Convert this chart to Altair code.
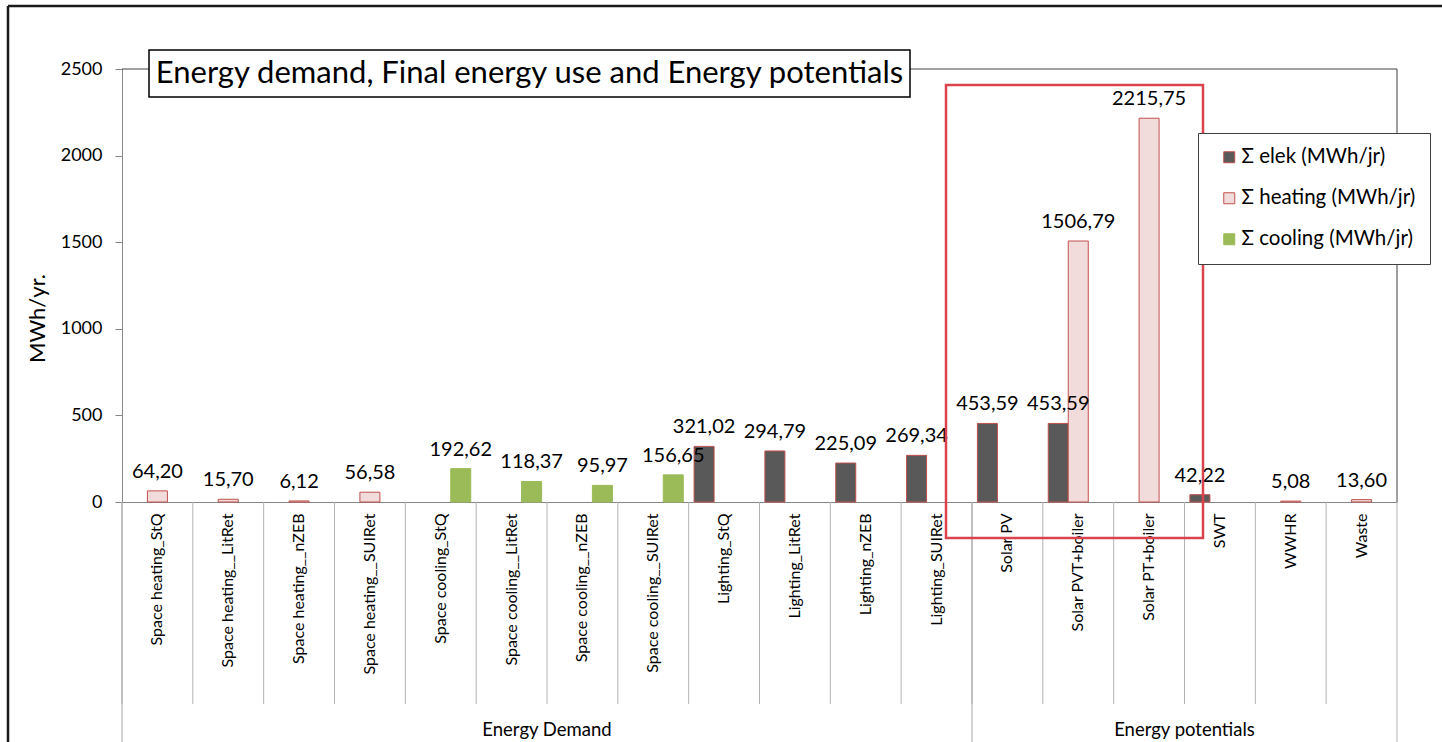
import altair as alt
import pandas as pd

# ---- data -------------------------------------------------------------
categories = [
    "Space heating_StQ", "Space heating__LitRet", "Space heating__nZEB", "Space heating__SUIRet",
    "Space cooling_StQ", "Space cooling__LitRet", "Space cooling__nZEB", "Space cooling__SUIRet",
    "Lighting_StQ", "Lighting_LitRet", "Lighting_nZEB", "Lighting_SUIRet",
    "Solar PV", "Solar PVT+boiler", "Solar PT+boiler", "SWT", "WWHR", "Waste",
]
group_names = ["Energy Demand", "Energy potentials"]
group_sizes = [12, 6]

elek = [None] * 8 + [321.02, 294.79, 225.09, 269.34, 453.59, 453.59, None, 42.22, None, None]
heating = [64.20, 15.70, 6.12, 56.58] + [None] * 9 + [1506.79, 2215.75, None, 5.08, 13.60]
cooling = [None] * 4 + [192.62, 118.37, 95.97, 156.65] + [None] * 10

series_names = ["Σ elek (MWh/jr)", "Σ heating (MWh/jr)", "Σ cooling (MWh/jr)"]
series_fill = ["#595959", "#f2dcdb", "#9bbb59"]
series_stroke = ["#c0504d", "#c0504d", "#9bbb59"]

y_ticks = [0, 500, 1000, 1500, 2000, 2500]
chart_title = "Energy demand, Final energy use and Energy potentials"
y_title = "MWh/yr."

# ---- tables -----------------------------------------------------------
rows = []
for name, values in zip(series_names, [elek, heating, cooling]):
    for cat, v in zip(categories, values):
        if v is not None:
            rows.append({"cat": cat, "series": name, "value": v,
                         "label": f"{v:.2f}".replace(".", ",")})
bars_df = pd.DataFrame(rows)
cats_df = pd.DataFrame({"cat": categories})

starts, mids = [], []
pos = 0
for size in group_sizes:
    starts.append(categories[pos])
    mids.append(categories[pos + size // 2])
    pos += size
group_start_df = pd.DataFrame({"cat": starts})
group_mid_df = pd.DataFrame({"cat": mids, "name": group_names})
last_df = pd.DataFrame({"cat": [categories[-1]]})
one = pd.DataFrame({"k": [0]})

W, H = 1275, 433
FONT = "Lato"

x_scale = alt.Scale(domain=categories, paddingInner=0, paddingOuter=0)
xo_scale = alt.Scale(domain=series_names, paddingInner=0, paddingOuter=0.27)
y_scale = alt.Scale(domain=[0, 2500])

legend = alt.Legend(title=None, orient="none", legendX=1076, legendY=64,
                    padding=14, symbolOffset=7, symbolType="square",
                    symbolSize=121, symbolStrokeWidth=1, labelOffset=2,
                    labelFontSize=20.5, labelFont=FONT, labelColor="#000000",
                    labelLimit=400, rowPadding=20, strokeColor="#404040",
                    fillColor="#ffffff")

# ---- bars -------------------------------------------------------------
bars = alt.Chart(bars_df).mark_bar(strokeWidth=1).encode(
    x=alt.X("cat:N", scale=x_scale, title=None,
            axis=alt.Axis(labelAngle=-90, labelAlign="right", labelBaseline="middle",
                          labelPadding=11, labelFontSize=16, labelColor="#000000",
                          labelLimit=400, ticks=False, domainColor="#868686",
                          labelFont=FONT)),
    xOffset=alt.XOffset("series:N", scale=xo_scale),
    y=alt.Y("value:Q", scale=y_scale, title=y_title,
            axis=alt.Axis(values=y_ticks, format="d", grid=False, tickSize=7,
                          tickColor="#868686", domainColor="#868686", labelFontSize=18,
                          labelPadding=13, labelColor="#000000", titleFontSize=22,
                          titleFontWeight="normal", titleColor="#000000", titleX=-73,
                          titleY=249, titleFont=FONT, labelFont=FONT)),
    fill=alt.Fill("series:N", scale=alt.Scale(domain=series_names, range=series_fill),
                  legend=legend),
    stroke=alt.Stroke("series:N", scale=alt.Scale(domain=series_names, range=series_stroke),
                      legend=legend),
)

labels = alt.Chart(bars_df).mark_text(baseline="alphabetic", dy=-13, fontSize=20,
                                      font=FONT, color="#000000").encode(
    x=alt.X("cat:N", scale=x_scale, axis=None),
    xOffset=alt.XOffset("series:N", scale=xo_scale),
    y=alt.Y("value:Q", scale=y_scale, axis=None),
    text="label:N",
)

# ---- category separators below the axis ------------------------------
cat_lines = alt.Chart(cats_df).mark_rule(color="#b3b3b3", strokeWidth=1).encode(
    x=alt.X("cat:N", scale=x_scale, bandPosition=0, axis=None),
    y=alt.value(H), y2=alt.value(H + 202),
)
cat_end = alt.Chart(last_df).mark_rule(color="#b3b3b3", strokeWidth=1).encode(
    x=alt.X("cat:N", scale=x_scale, bandPosition=1, axis=None),
    y=alt.value(H), y2=alt.value(H + 240),
)
group_lines = alt.Chart(group_start_df).mark_rule(color="#a6a6a6", strokeWidth=1).encode(
    x=alt.X("cat:N", scale=x_scale, bandPosition=0, axis=None),
    y=alt.value(H), y2=alt.value(H + 240),
)
group_text = alt.Chart(group_mid_df).mark_text(fontSize=18.5, font=FONT, color="#000000",
                                               baseline="middle").encode(
    x=alt.X("cat:N", scale=x_scale, bandPosition=0, axis=None),
    y=alt.value(H + 228),
    text="name:N",
)

# ---- plot frame, outer border, title box, highlight box ---------------
frame_top = alt.Chart(one).mark_rule(color="#404040", strokeWidth=1).encode(
    x=alt.value(0), x2=alt.value(W), y=alt.value(0))
frame_right = alt.Chart(one).mark_rule(color="#404040", strokeWidth=1).encode(
    x=alt.value(W), y=alt.value(0), y2=alt.value(H))

outer_left = alt.Chart(one).mark_rule(color="#1a1a1a", strokeWidth=2.5).encode(
    x=alt.value(-114), y=alt.value(-63), y2=alt.value(H + 240))
outer_top = alt.Chart(one).mark_rule(color="#1a1a1a", strokeWidth=2.5).encode(
    x=alt.value(-114), x2=alt.value(W + 45), y=alt.value(-63))

title_box = alt.Chart(one).mark_rect(fill="#ffffff", stroke="#000000", strokeWidth=1.5).encode(
    x=alt.value(27), x2=alt.value(788), y=alt.value(-19), y2=alt.value(28))
title_text = alt.Chart(one).mark_text(fontSize=31, font=FONT, color="#000000",
                                      baseline="middle", align="center").encode(
    x=alt.value(407.5), y=alt.value(5), text=alt.value(chart_title))

highlight = alt.Chart(one).mark_rect(filled=False, stroke="#d9434e", strokeWidth=2.5).encode(
    x=alt.value(824), x2=alt.value(1081), y=alt.value(16), y2=alt.value(469))

chart = alt.layer(
    bars, frame_top, frame_right, cat_lines, cat_end, group_lines, group_text,
    labels, title_box, title_text, highlight, outer_left, outer_top,
).resolve_axis(
    x="independent", y="independent",
).properties(
    width=W, height=H,
    padding={"left": 122, "top": 69, "right": 45, "bottom": 240},
    autosize=alt.AutoSizeParams(type="none"),
    background="#ffffff",
).configure(font=FONT).configure_view(stroke=None)

chart.save("out.html", embed_options={"renderer": "svg", "actions": False})
